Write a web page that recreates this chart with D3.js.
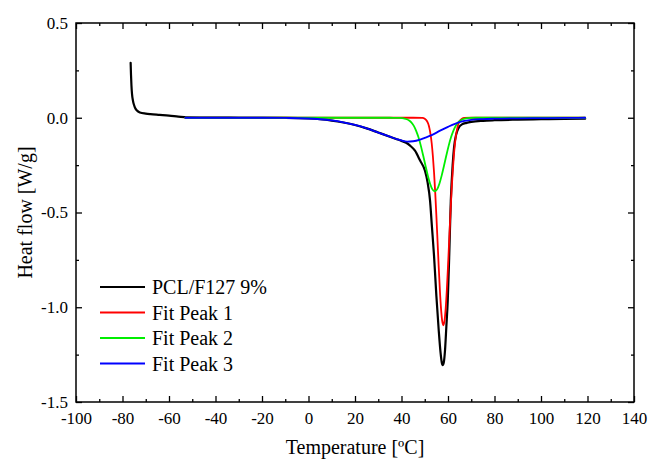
<!DOCTYPE html>
<html><head><meta charset="utf-8">
<script src="https://cdn.jsdelivr.net/npm/d3@7"></script>
<style>
body{margin:0;background:#fff;}
svg{display:block;}
text{font-family:"Liberation Serif","Times New Roman","DejaVu Serif",serif !important;fill:#000;}
</style></head>
<body><svg id="c" width="649" height="460"></svg>
<script>
// ---- data ----
const seriesNames = ["PCL/F127 9%", "Fit Peak 1", "Fit Peak 2", "Fit Peak 3"];
const seriesColors = ["#000000", "#ff0000", "#00ee00", "#0000ff"];

const sampleT = [-76.5,-76.35,-76.15,-75.9,-75.5,-75.0,-74.5,-73.8,-72.5,-70,-68,-64,-60,-56,-52.4,-45,-30,-10,0,5,10,15,20,25,30,35,38,40,42,43.7,45.8,48,50.1,51.2,52.3,53,54,55,56,56.8,57.3,57.7,58.2,58.7,59.3,59.9,60.5,61.2,62,62.6,63.5,64.5,66,68,70,75,80,90,100,110,119];
const sampleHF = [0.29,0.23,0.17,0.125,0.09,0.066,0.05,0.038,0.028,0.022,0.019,0.015,0.011,0.006,0.002,0.001,0.0,-0.001,-0.004,-0.008,-0.015,-0.025,-0.038,-0.056,-0.078,-0.1,-0.113,-0.122,-0.132,-0.147,-0.174,-0.226,-0.28,-0.34,-0.44,-0.56,-0.73,-0.94,-1.12,-1.24,-1.29,-1.305,-1.29,-1.23,-1.1,-0.963,-0.74,-0.44,-0.25,-0.156,-0.09,-0.055,-0.035,-0.027,-0.022,-0.016,-0.013,-0.01,-0.008,-0.006,-0.005];

const peak1T = [-53,45,49,50,51,51.5,52,52.5,53,53.5,54,54.5,55,55.5,56,56.5,57,57.5,58,58.5,59,59.5,60,60.5,61,61.5,62,62.5,63,63.5,64,64.5,65,66,67,70,119];
const peak1HF = [0,0,-0.001,-0.005,-0.0185,-0.032,-0.0545,-0.088,-0.136,-0.203,-0.289,-0.394,-0.517,-0.65,-0.785,-0.908,-1.007,-1.072,-1.095,-1.072,-1.007,-0.908,-0.785,-0.65,-0.517,-0.394,-0.289,-0.203,-0.136,-0.088,-0.0545,-0.032,-0.0185,-0.005,-0.001,0,0];

const peak2T = [-53,35,38,39.3,40.3,41.3,42.3,43.3,44.3,45.3,46.3,47.3,48.3,49.3,50.3,51.3,52.3,53.3,54.3,55.3,56.3,57.3,58.3,59.3,60.3,61.3,62.3,63.3,64.3,65.3,66.3,67.3,68.3,69.3,72,119];
const peak2HF = [0,0,-0.001,-0.001,-0.002,-0.004,-0.008,-0.015,-0.026,-0.043,-0.069,-0.103,-0.147,-0.198,-0.252,-0.304,-0.348,-0.378,-0.388,-0.378,-0.348,-0.304,-0.252,-0.198,-0.147,-0.103,-0.069,-0.043,-0.026,-0.015,-0.008,-0.004,-0.002,-0.001,0,0];

const peak3T = [-53,-20,-10,0,5,10,15,20,25,30,35,38,40,42.4,45,48,50,53,56.6,60,63,66.5,70,75,80,90,100,110,119];
const peak3HF = [0,0,-0.001,-0.004,-0.008,-0.014,-0.024,-0.038,-0.056,-0.078,-0.1,-0.113,-0.12,-0.126,-0.124,-0.115,-0.106,-0.092,-0.068,-0.048,-0.032,-0.018,-0.011,-0.007,-0.005,-0.003,-0.002,-0.001,0];

const xMajor = [-100,-80,-60,-40,-20,0,20,40,60,80,100,120,140];
const xMajorLabels = ["-100","-80","-60","-40","-20","0","20","40","60","80","100","120","140"];
const xMinor = [-90,-70,-50,-30,-10,10,30,50,70,90,110,130];
const yMajor = [0.5,0,-0.5,-1.0,-1.5];
const yMajorLabels = ["0.5","0.0","-0.5","-1.0","-1.5"];
const yMinor = [0.25,-0.25,-0.75,-1.25];

const xTitle = "Temperature [ºC]";
const yTitle = "Heat flow [W/g]";

// ---- chart ----
const FONT = "'Liberation Serif','Times New Roman','DejaVu Serif',serif";
const svg = d3.select("#c");
const L = 76, R = 634, T = 23, B = 402;
const x = d3.scaleLinear().domain([-100,140]).range([L,R]);
const y = d3.scaleLinear().domain([-1.5,0.5]).range([B,T]);

const allSeries = [
  sampleT.map((t,i)=>[t,sampleHF[i]]),
  peak1T.map((t,i)=>[t,peak1HF[i]]),
  peak2T.map((t,i)=>[t,peak2HF[i]]),
  peak3T.map((t,i)=>[t,peak3HF[i]])
];
const widths = [2.2,1.8,1.8,1.8];

const line = d3.line().x(d=>x(d[0])).y(d=>y(d[1])).curve(d3.curveMonotoneX);
svg.append("clipPath").attr("id","pc").append("rect")
  .attr("x",L).attr("y",T).attr("width",R-L).attr("height",B-T);
const g = svg.append("g").attr("clip-path","url(#pc)");
allSeries.forEach((s,i)=>{
  g.append("path").datum(s).attr("d",line).attr("fill","none")
   .attr("stroke",seriesColors[i]).attr("stroke-width",widths[i])
   .attr("stroke-linejoin","round").attr("stroke-linecap","round");
});

function styleAxis(sel){
  sel.attr("font-family",FONT).attr("font-size",17);
  sel.select(".domain").remove();
  sel.selectAll(".tick line").attr("stroke","#000").attr("stroke-width",1.3);
  sel.selectAll("text").attr("font-family",FONT).attr("font-size",17);
}
// bottom
svg.append("g").attr("transform",`translate(0,${B})`)
  .call(d3.axisBottom(x).tickValues(xMajor).tickFormat((d,i)=>xMajorLabels[i]).tickSizeInner(-6).tickSizeOuter(0).tickPadding(10))
  .call(styleAxis);
svg.append("g").attr("transform",`translate(0,${B})`)
  .call(d3.axisBottom(x).tickValues(xMinor).tickFormat("").tickSizeInner(-3).tickSizeOuter(0)).call(styleAxis);
// top
svg.append("g").attr("transform",`translate(0,${T})`)
  .call(d3.axisTop(x).tickValues(xMajor).tickFormat("").tickSizeInner(-6).tickSizeOuter(0)).call(styleAxis);
svg.append("g").attr("transform",`translate(0,${T})`)
  .call(d3.axisTop(x).tickValues(xMinor).tickFormat("").tickSizeInner(-3).tickSizeOuter(0)).call(styleAxis);
// left
svg.append("g").attr("transform",`translate(${L},0)`)
  .call(d3.axisLeft(y).tickValues(yMajor).tickFormat((d,i)=>yMajorLabels[i]).tickSizeInner(-6).tickSizeOuter(0).tickPadding(8))
  .call(styleAxis);
svg.append("g").attr("transform",`translate(${L},0)`)
  .call(d3.axisLeft(y).tickValues(yMinor).tickFormat("").tickSizeInner(-3).tickSizeOuter(0)).call(styleAxis);
// right
svg.append("g").attr("transform",`translate(${R},0)`)
  .call(d3.axisRight(y).tickValues(yMajor).tickFormat("").tickSizeInner(-6).tickSizeOuter(0)).call(styleAxis);
svg.append("g").attr("transform",`translate(${R},0)`)
  .call(d3.axisRight(y).tickValues(yMinor).tickFormat("").tickSizeInner(-3).tickSizeOuter(0)).call(styleAxis);

// frame
svg.append("rect").attr("x",L).attr("y",T).attr("width",R-L).attr("height",B-T)
  .attr("fill","none").attr("stroke","#000").attr("stroke-width",1.5);

// titles
svg.append("text").attr("x",(L+R)/2).attr("y",454).attr("text-anchor","middle")
  .attr("font-family",FONT).attr("font-size",20).text(xTitle);
svg.append("text").attr("transform",`translate(32,${(T+B)/2}) rotate(-90)`).attr("text-anchor","middle")
  .attr("font-family",FONT).attr("font-size",20).text(yTitle);

// legend
const legY0 = 287, legDY = 25.5;
seriesNames.forEach((n,i)=>{
  const yy = legY0 + i*legDY;
  svg.append("line").attr("x1",100).attr("x2",145).attr("y1",yy).attr("y2",yy)
    .attr("stroke",seriesColors[i]).attr("stroke-width",2);
  svg.append("text").attr("x",152).attr("y",yy).attr("dy","0.35em")
    .attr("font-family",FONT).attr("font-size",20).text(n);
});
</script></body></html>
